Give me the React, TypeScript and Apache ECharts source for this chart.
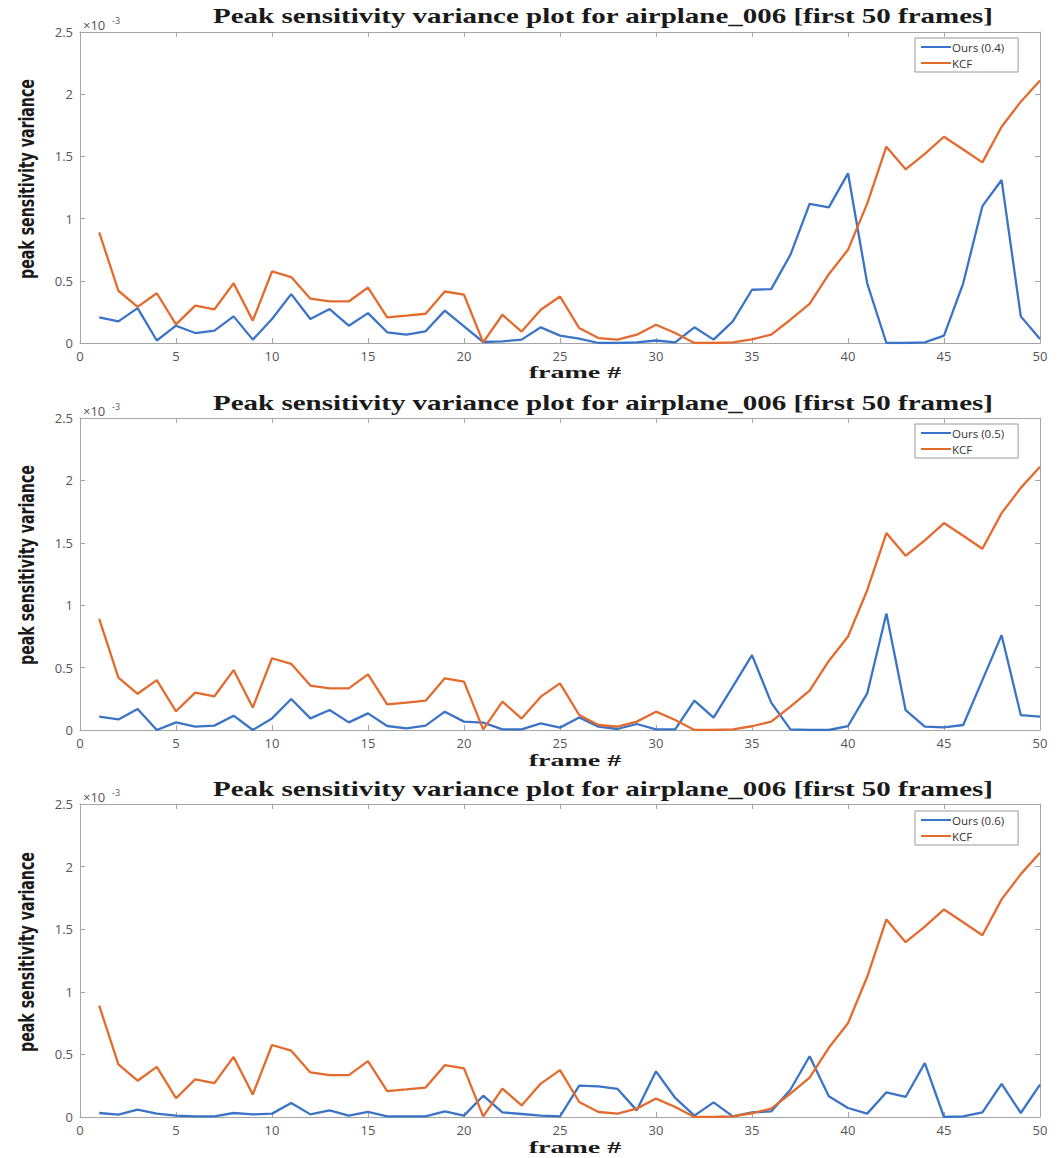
import React, { useEffect, useRef } from "react";
import * as echarts from "echarts";

const frames = [1,2,3,4,5,6,7,8,9,10,11,12,13,14,15,16,17,18,19,20,21,22,23,24,25,26,27,28,29,30,31,32,33,34,35,36,37,38,39,40,41,42,43,44,45,46,47,48,49,50];

// values in units of 1e-3
const kcf = [0.89,0.42,0.29,0.40,0.15,0.30,0.27,0.48,0.18,0.575,0.53,0.356,0.334,0.334,0.446,0.206,0.22,0.235,0.414,0.388,0.005,0.227,0.092,0.267,0.374,0.12,0.04,0.027,0.067,0.147,0.08,0.0,0.0,0.005,0.03,0.067,0.187,0.315,0.553,0.749,1.12,1.578,1.396,1.52,1.658,1.556,1.452,1.738,1.94,2.11];

const ours04 = [0.206,0.174,0.28,0.02,0.139,0.08,0.099,0.214,0.027,0.193,0.393,0.193,0.273,0.139,0.24,0.086,0.067,0.094,0.26,0.134,0.008,0.013,0.027,0.126,0.059,0.035,0.0,0.0,0.005,0.02,0.005,0.126,0.027,0.174,0.428,0.433,0.709,1.118,1.09,1.364,0.48,0.0,0.0,0.005,0.059,0.48,1.10,1.31,0.214,0.032];

const ours05 = [0.107,0.085,0.168,0.0,0.061,0.027,0.035,0.115,0.0,0.093,0.248,0.093,0.16,0.061,0.133,0.032,0.013,0.035,0.147,0.067,0.059,0.005,0.005,0.053,0.019,0.10,0.027,0.008,0.048,0.005,0.005,0.235,0.099,0.347,0.60,0.219,0.005,0.0,0.0,0.032,0.293,0.934,0.16,0.027,0.021,0.04,0.40,0.76,0.12,0.107];

const ours06 = [0.032,0.019,0.059,0.027,0.011,0.005,0.005,0.032,0.021,0.027,0.112,0.021,0.053,0.011,0.04,0.005,0.005,0.005,0.045,0.011,0.17,0.037,0.024,0.011,0.005,0.25,0.245,0.224,0.053,0.365,0.152,0.011,0.117,0.005,0.037,0.045,0.218,0.485,0.165,0.072,0.027,0.197,0.16,0.431,0.0,0.005,0.037,0.264,0.032,0.258];

const oursNames = ["Ours (0.4)", "Ours (0.5)", "Ours (0.6)"];
const oursSets = [ours04, ours05, ours06];
const titleText = "Peak sensitivity variance plot for airplane_006 [first 50 frames]";
const xLabel = "frame #";
const yLabel = "peak sensitivity variance";
const expBase = "×10";
const expPow = "-3";

const BLUE = "#3b74c6";
const ORANGE = "#e36b2e";
const AXIS = "#a6a6a6";

const panels = [
  { top: 32, height: 311, titleY: 16, xLabY: 372, yLabY: 179, expY: 25, legTop: 38 },
  { top: 418, height: 312, titleY: 403, xLabY: 760, yLabY: 565, expY: 411, legTop: 424 },
  { top: 804, height: 313, titleY: 789, xLabY: 1147, yLabY: 952, expY: 797, legTop: 811 },
];

export default function App() {
  const ref = useRef<HTMLDivElement>(null);
  useEffect(() => {
    if (!ref.current) return;
    const chart = echarts.init(ref.current, null, { renderer: "svg" });
    const grid: any[] = [];
    const xAxis: any[] = [];
    const yAxis: any[] = [];
    const series: any[] = [];
    const legend: any[] = [];
    const graphic: any[] = [];
    const tickLabel = { color: "#555", fontSize: 13, fontFamily: "Open Sans" };
    panels.forEach((p, i) => {
      grid.push({ left: 80, right: 20, top: p.top, height: p.height, show: false });
      const common = {
        gridIndex: i,
        axisLine: { show: true, onZero: false, lineStyle: { color: AXIS, width: 1 } },
        axisTick: { show: true, inside: true, length: 5, lineStyle: { color: AXIS } },
        splitLine: { show: false },
      };
      xAxis.push({ ...common, type: "value", min: 0, max: 50, interval: 5, position: "bottom",
        axisLabel: { ...tickLabel, margin: 6 } });
      xAxis.push({ ...common, type: "value", min: 0, max: 50, interval: 5, position: "top",
        axisLabel: { show: false } });
      yAxis.push({ ...common, type: "value", min: 0, max: 2.5, interval: 0.5, position: "left",
        axisLabel: { ...tickLabel, margin: 7 } });
      yAxis.push({ ...common, type: "value", min: 0, max: 2.5, interval: 0.5, position: "right",
        axisLabel: { show: false } });
      series.push({
        name: oursNames[i], type: "line", xAxisIndex: 2 * i, yAxisIndex: 2 * i,
        data: frames.map((f, j) => [f, oursSets[i][j]]),
        symbol: "none", lineStyle: { width: 2.3, color: BLUE }, itemStyle: { color: BLUE },
      });
      series.push({
        name: "KCF", type: "line", xAxisIndex: 2 * i, yAxisIndex: 2 * i,
        data: frames.map((f, j) => [f, kcf[j]]),
        symbol: "none", lineStyle: { width: 2.3, color: ORANGE }, itemStyle: { color: ORANGE },
      });
      legend.push({
        data: [oursNames[i], "KCF"], left: 915, top: p.legTop, orient: "vertical",
        icon: "rect", itemWidth: 30, itemHeight: 2, itemGap: 4,
        padding: [3, 14, 3, 6], borderColor: "#999", borderWidth: 1, backgroundColor: "#fff",
        textStyle: { fontSize: 11.5, lineHeight: 12, color: "#333", fontFamily: "Open Sans", padding: [0, 0, 0, -4] },
        selectedMode: false,
      });
      graphic.push({
        type: "text", x: 603, y: p.titleY, scaleX: 1.38,
        style: { text: titleText, font: "bold 21px 'Liberation Serif'", fill: "#1a1a1a",
          textAlign: "center", textVerticalAlign: "middle" },
      });
      graphic.push({
        type: "text", x: 575, y: p.xLabY, scaleX: 1.65,
        style: { text: xLabel, font: "bold 17px 'Liberation Serif'", fill: "#1a1a1a",
          textAlign: "center", textVerticalAlign: "middle" },
      });
      graphic.push({
        type: "text", x: 27, y: p.yLabY, rotation: Math.PI / 2, scaleX: 0.75,
        style: { text: yLabel, font: "bold 21px 'DejaVu Sans Condensed'", fill: "#1a1a1a",
          textAlign: "center", textVerticalAlign: "middle" },
      });
      graphic.push({
        type: "text", x: 83, y: p.expY,
        style: { text: expBase, font: "13px 'Open Sans'", fill: "#555",
          textAlign: "left", textVerticalAlign: "middle" },
      });
      graphic.push({
        type: "text", x: 112, y: p.expY - 5,
        style: { text: expPow, font: "9px 'Open Sans'", fill: "#555",
          textAlign: "left", textVerticalAlign: "middle" },
      });
    });
    chart.setOption({
      animation: false,
      backgroundColor: "#fff",
      grid, xAxis, yAxis, series, legend, graphic,
    });
    return () => chart.dispose();
  }, []);
  return (
    <div ref={ref} style={{ position: "absolute", left: 0, top: 0, width: 1060, height: 1158 }} />
  );
}
